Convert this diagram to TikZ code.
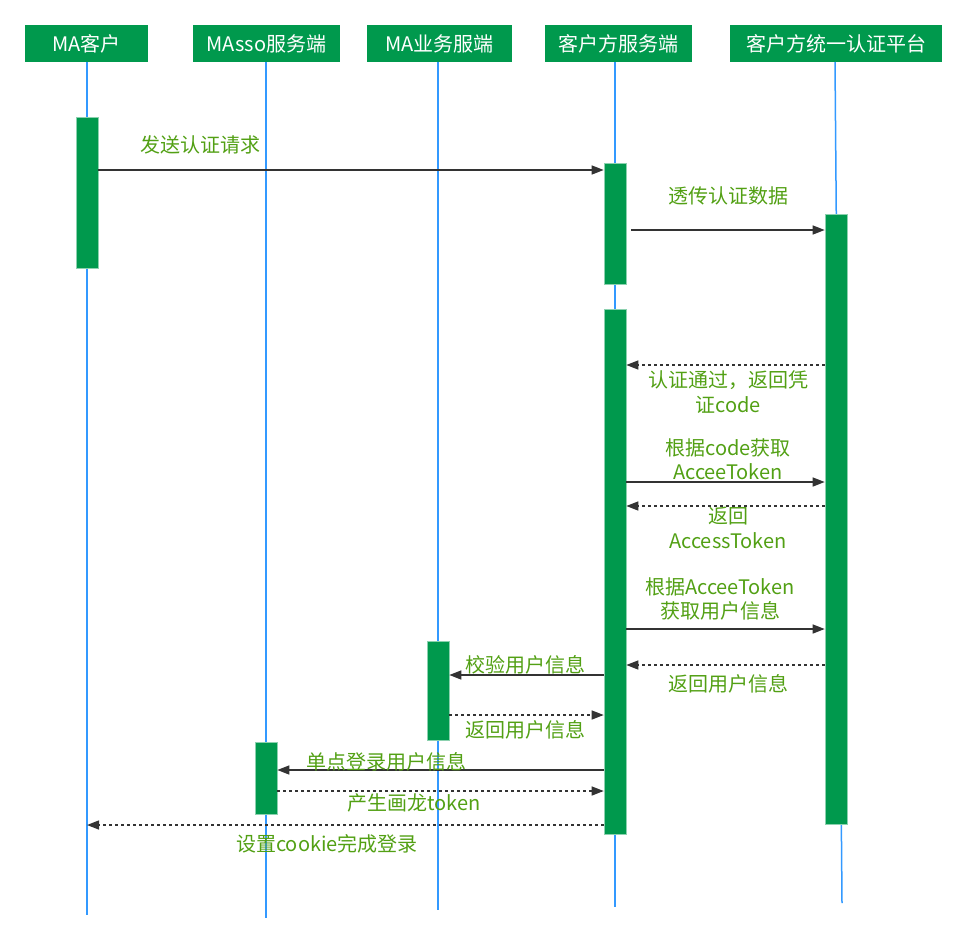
\documentclass[tikz,border=0pt]{standalone}
\usepackage{fontspec}
\setmainfont{Noto Sans CJK SC}
\usepackage{tikz}
\usetikzlibrary{arrows.meta,positioning,calc}
\definecolor{boxgreen}{RGB}{0,153,77}
\definecolor{labelgreen}{RGB}{82,160,20}
\definecolor{lifeblue}{RGB}{51,153,255}
\definecolor{arrowgray}{RGB}{51,51,51}
\tikzset{
  actor/.style={rectangle, fill=boxgreen, text=white, minimum height=37pt, inner sep=0pt, font=\fontsize{20}{22}\selectfont},
  lifeline/.style={draw=lifeblue, line width=1.5pt},
  actbar/.style={rectangle, fill=boxgreen, draw=boxgreen!45, line width=0.6pt, minimum width=22pt, inner sep=0pt},
  msg/.style={draw=arrowgray, line width=1.4pt, -{Triangle[length=12pt,width=9pt]}},
  reply/.style={msg, dash pattern=on 3pt off 3pt},
  msglabel/.style={text=labelgreen, align=center, inner sep=0pt, font=\fontsize{20}{24.5}\selectfont}
}
\begin{document}
\begin{tikzpicture}[x=1pt, y=-1pt]
  \useasboundingbox (0,0) rectangle (963,945);
  % participants
  \node[actor, minimum width=123pt] (macust) at (86.5,43.5) {MA客户};
  \node[actor, minimum width=147pt] (masso) at (266.5,43.5) {MAsso服务端};
  \node[actor, minimum width=145pt] (mabiz) at (439.5,43.5) {MA业务服端};
  \node[actor, minimum width=147pt] (kfserver) at (618.5,43.5) {客户方服务端};
  \node[actor, minimum width=212pt] (kfauth) at (836,43.5) {客户方统一认证平台};
  % lifelines
  \coordinate (macustend) at (87,915);
  \coordinate (massoend) at (266,918);
  \coordinate (mabizend) at (438,910);
  \coordinate (kfserverend) at (615,907);
  \coordinate (kfauthend) at (842,903);
  \draw[lifeline] (macust.south -| macustend) -- (macustend);
  \draw[lifeline] (masso.south -| massoend) -- (massoend);
  \draw[lifeline] (mabiz.south -| mabizend) -- (mabizend);
  \draw[lifeline] (kfserver.south -| kfserverend) -- (kfserverend);
  \draw[lifeline] (835,62) -- (kfauthend);
  % activation bars
  \node[actbar, minimum height=151pt] (macust1) at (87,192.5) {};
  \node[actbar, minimum height=121pt] (kfserver1) at (615,223.5) {};
  \node[actbar, minimum height=525pt] (kfserver2) at (615,571.5) {};
  \node[actbar, minimum height=610pt] (kfauth1) at (836,519) {};
  \node[actbar, minimum height=99pt] (mabiz1) at (438,690.5) {};
  \node[actbar, minimum height=72pt] (masso1) at (266,778) {};
  % messages
  \draw[msg] (macust1.east |- 0,170) -- (kfserver1.west |- 0,170);
  \node[msglabel] (m1) at (200,145) {发送认证请求};
  \draw[msg] ([xshift=5pt]kfserver1.east |- 0,230) -- (kfauth1.west |- 0,230);
  \node[msglabel] (m2) at (728,196) {透传认证数据};
  \draw[reply] (kfauth1.west |- 0,365) -- (kfserver2.east |- 0,365);
  \node[msglabel] (m3) at (728,392) {认证通过，返回凭\\证code};
  \draw[msg] (kfserver2.east |- 0,482) -- (kfauth1.west |- 0,482);
  \node[msglabel] (m4) at (728,459) {根据code获取\\AcceeToken};
  \draw[reply] (kfauth1.west |- 0,506) -- (kfserver2.east |- 0,506);
  \node[msglabel] (m5) at (728,528) {返回\\AccessToken};
  \draw[msg] (kfserver2.east |- 0,629) -- (kfauth1.west |- 0,629);
  \node[msglabel] (m6) at (720,599) {根据AcceeToken\\获取用户信息};
  \draw[reply] (kfauth1.west |- 0,665) -- (kfserver2.east |- 0,665);
  \node[msglabel] (m7) at (728,684) {返回用户信息};
  \draw[msg] (kfserver2.west |- 0,675) -- (mabiz1.east |- 0,675);
  \node[msglabel] (m8) at (525,665) {校验用户信息};
  \draw[reply] (mabiz1.east |- 0,715) -- (kfserver2.west |- 0,715);
  \node[msglabel] (m9) at (525,730) {返回用户信息};
  \draw[msg] (kfserver2.west |- 0,770) -- (masso1.east |- 0,770);
  \node[msglabel] (m10) at (386,762) {单点登录用户信息};
  \draw[reply] (masso1.east |- 0,791) -- (kfserver2.west |- 0,791);
  \node[msglabel] (m11) at (414,803) {产生画龙token};
  \draw[reply] (kfserver2.west |- 0,825) -- (macustend |- 0,825);
  \node[msglabel] (m12) at (327,844) {设置cookie完成登录};
\end{tikzpicture}
\end{document}
